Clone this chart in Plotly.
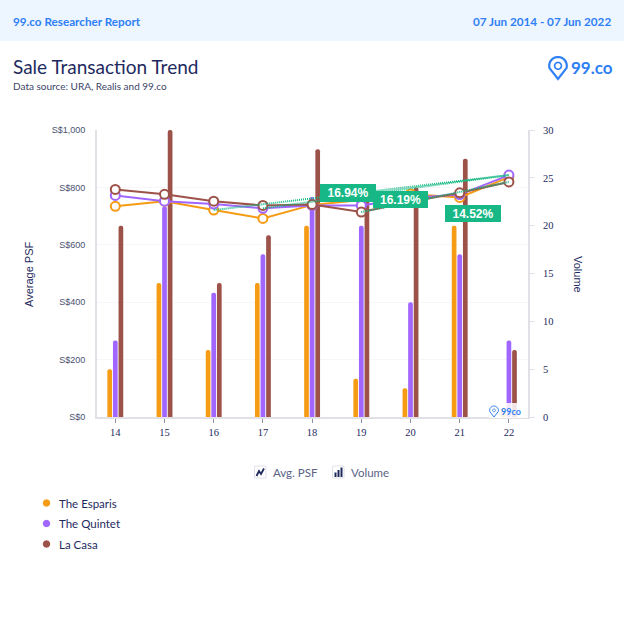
import math
import plotly.graph_objects as go

years = ["14", "15", "16", "17", "18", "19", "20", "21", "22"]
series_names = ["The Esparis", "The Quintet", "La Casa"]
esparis_psf = [734, 752, 721, 692, 739, 756, 777, 765, 836]
quintet_psf = [772, 752, 742, 727, 737, 737, 763, 775, 843]
lacasa_psf = [793, 776, 752, 737, 740, 714, 750, 781, 819]
esparis_vol = [5, 14, 7, 14, 20, 4, 3, 20, 1]
quintet_vol = [8, 22, 13, 17, 23, 20, 12, 17, 8]
lacasa_vol = [20, 30, 14, 19, 28, 23, 24, 27, 7]
trend_labels = ["16.94%", "16.19%", "14.52%"]
trend_x = [["16", "22"], ["17", "22"], ["19", "22"]]
trend_y = [[721, 843], [727, 843], [714, 819]]
left_ticks = [0, 200, 400, 600, 800, 1000]
left_labels = ["S$0", "S$200", "S$400", "S$600", "S$800", "S$1,000"]
right_ticks = [0, 5, 10, 15, 20, 25, 30]

ORANGE, PURPLE, BROWN = "#f59b14", "#a066ff", "#9c5249"
colors = [ORANGE, PURPLE, BROWN]
NAVY = "#1e2a5e"
BLUE = "#2f7ff5"
GREEN = "#17b885"
AXIS = "#e0e0e6"
UI = "Lato"

L, R, T, B = 97, 528, 130, 417
W, H = 624, 640


def px(x):
    return (x - L) / (R - L)


def py(y):
    return (B - y) / (B - T)


def path(points, close=False):
    s = "M " + " L ".join(f"{px(a):.5f} {py(b):.5f}" for a, b in points)
    return s + (" Z" if close else "")


def circle(cx, cy, r, n=28):
    return [(cx + r * math.cos(2 * math.pi * i / n), cy + r * math.sin(2 * math.pi * i / n)) for i in range(n)]


def pin(cx, top, size):
    r = size * 0.4
    cy = top + r
    pts = [(cx + r * math.cos(math.radians(a)), cy + r * math.sin(math.radians(a))) for a in range(165, 376, 10)]
    pts.append((cx, top + size))
    return pts


fig = go.Figure()

for name, vals, c in zip(series_names, [esparis_vol, quintet_vol, lacasa_vol], colors):
    fig.add_bar(x=years, y=vals, name=name, marker=dict(color=c, cornerradius=2, line_width=0),
                yaxis="y", showlegend=False)

for name, vals, c in zip(series_names, [esparis_psf, quintet_psf, lacasa_psf], colors):
    fig.add_scatter(x=years, y=vals, name=name, mode="lines+markers", yaxis="y2", showlegend=False,
                    line=dict(color=c, width=2),
                    marker=dict(size=9, color="white", line=dict(color=c, width=2)))

for xs, ys in zip(trend_x, trend_y):
    fig.add_scatter(x=xs, y=ys, mode="lines", yaxis="y2", showlegend=False,
                    line=dict(color=GREEN, width=2, dash="1px 1px"))

shapes = []


def rect(x0, y0, x1, y1, color, opacity=1, border=None):
    shapes.append(dict(type="rect", xref="paper", yref="paper", x0=px(x0), x1=px(x1), y0=py(y1), y1=py(y0),
                       fillcolor=color, opacity=opacity, layer="above",
                       line=dict(color=border if border else "rgba(0,0,0,0)", width=1 if border else 0)))


def poly(points, fill=None, line=None, width=1.5, close=True):
    shapes.append(dict(type="path", xref="paper", yref="paper", path=path(points, close),
                       fillcolor=fill if fill else "rgba(0,0,0,0)",
                       line=dict(color=line if line else "rgba(0,0,0,0)", width=width if line else 0),
                       layer="above"))


# header band
rect(0, 0, W, 41, "#edf5ff")
# logo
poly(pin(558, 57, 22), line=BLUE, width=2.2)
poly(circle(558, 65.8, 3.4), line=BLUE, width=1.6)
# watermark
rect(490, 403, 528, 418, "white", 0.85)
poly(pin(494, 406, 11), line=BLUE, width=1)
poly(circle(494, 410.4, 1.5, 14), line=BLUE, width=0.8)
# chart switch icons
rect(254.5, 466, 266, 478, "white", border="#dfe2ea")
poly([(256.5, 476), (259, 471), (261, 474), (264, 468.5)], line=NAVY, width=1.8, close=False)
rect(332.5, 466, 344, 478, "white", border="#dfe2ea")
rect(334.5, 472.5, 336.5, 477, NAVY)
rect(337.5, 470, 339.5, 477, NAVY)
rect(340.5, 467.5, 342.5, 477, NAVY)
# series key
for y, c in zip([503, 523.5, 544], colors):
    poly(circle(46.5, y, 3.7), fill=c)

annotations = []


def text(x, y, s, size, color=NAVY, anchor="left", family=UI, **kw):
    annotations.append(dict(xref="paper", yref="paper", x=px(x), y=py(y), text=s, showarrow=False,
                            xanchor=anchor, yanchor="middle", borderpad=0, borderwidth=0,
                            font=dict(family=family, size=size, color=color), **kw))


text(13, 21, "<b>99.co Researcher Report</b>", 11.7, BLUE)
text(611, 21, "<b>07 Jun 2014 - 07 Jun 2022</b>", 11.7, BLUE, anchor="right")
text(13, 66, "Sale Transaction Trend", 19)
text(13, 86, "Data source: URA, Realis and 99.co", 10, "#3c4468")
text(571, 67, "<b>99.co</b>", 17, BLUE)
text(501, 411, "<b>99co</b>", 9, BLUE)
text(29, 274, "Average PSF", 11, NAVY, anchor="center", family="Liberation Sans", textangle=-90)
text(578, 274, "Volume", 11, NAVY, anchor="center", family="Liberation Sans", textangle=90)
text(273, 472, "Avg. PSF", 11.5, "#5a6285")
text(351, 472, "Volume", 11.5, "#5a6285")
for y, s in zip([503, 523.5, 544], series_names):
    text(59, y, s, 11.5)
for (x0, x1, y0, y1), s in zip([(320, 376, 184, 202), (373, 428, 191, 208), (445, 501, 205, 222)], trend_labels):
    text((x0 + x1) / 2, (y0 + y1) / 2, f"<b>{s}</b>", 12, "white", anchor="center", family="Liberation Sans",
         bgcolor=GREEN, width=x1 - x0, height=y1 - y0)

tickfont = dict(family="Liberation Serif", size=10.5, color=NAVY)
fig.update_layout(
    width=W, height=H, autosize=False,
    margin=dict(l=L, r=W - R, t=T, b=H - B, pad=0),
    paper_bgcolor="white", plot_bgcolor="white",
    barmode="group", bargap=0.659, bargroupgap=0.16,
    shapes=shapes, annotations=annotations,
    xaxis=dict(type="category", range=[-0.372, 8.388], showgrid=False, showline=True, linecolor=AXIS, linewidth=2,
               ticks="outside", ticklen=4, tickcolor="#8a8fa5", tickfont=tickfont, ticklabelstandoff=0),
    yaxis=dict(side="right", range=[0, 30], tickvals=right_ticks, showgrid=False, zeroline=False, showline=True,
               linecolor=AXIS, linewidth=2, ticks="outside", ticklen=5, tickcolor=AXIS, tickfont=tickfont,
               ticklabelstandoff=6),
    yaxis2=dict(side="left", overlaying="y", range=[0, 1000], tickvals=left_ticks, ticktext=left_labels,
                showgrid=True, gridcolor="#f7f7f9", gridwidth=1, zeroline=False, showline=True, linecolor=AXIS,
                linewidth=2, ticks="", tickfont=dict(family="Liberation Sans", size=9, color="#4a5070"),
                ticklabelstandoff=8),
    hovermode=False,
)

fig.write_html("out.html", config={"displayModeBar": False},
               post_script="document.body.style.margin='0';document.documentElement.style.overflow='hidden';")
